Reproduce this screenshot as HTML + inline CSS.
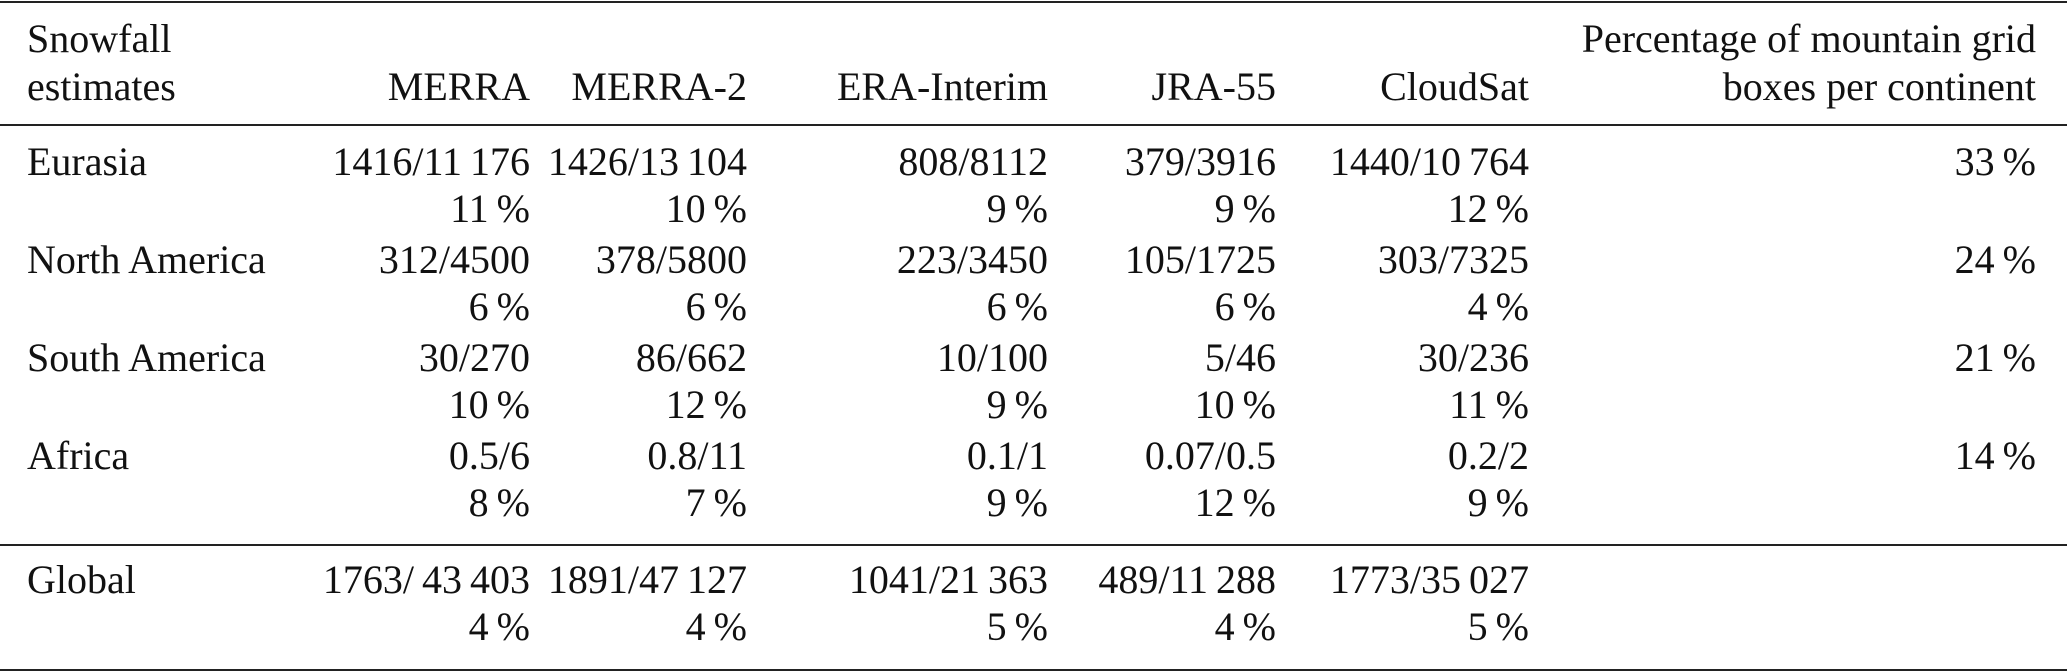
<!DOCTYPE html>
<html><head><meta charset="utf-8"><style>
html,body{margin:0;padding:0;background:#fff;}
body{width:2067px;height:672px;position:relative;overflow:hidden;font-family:"Liberation Serif",serif;font-size:40px;color:#111;}
.t{position:absolute;line-height:40px;white-space:nowrap;}
.r{text-align:right;}
.h{position:absolute;left:0;width:2067px;height:2px;background:#222;}
</style></head><body>
<div class="h" style="top:1px"></div>
<div class="h" style="top:124px"></div>
<div class="h" style="top:544px"></div>
<div class="h" style="top:669px"></div>
<div id="c"></div>
<script>
const B=2067;
const edges=[530,747,1048,1276,1529,2036];
function put(txt,x,base,right){const d=document.createElement('div');d.className='t';d.textContent=txt;d.style.top=(base-33.5)+'px';if(right){d.style.right=(B-x)+'px';}else{d.style.left=x+'px';}document.body.appendChild(d);}
put('Snowfall',27,52);put('estimates',27,100);
['MERRA','MERRA-2','ERA-Interim','JRA-55','CloudSat','boxes per continent'].forEach((s,i)=>put(s,edges[i],100,1));
put('Percentage of mountain grid',edges[5],52,1);
const rows=[
['Eurasia',175,['1416/11\u2009176','1426/13\u2009104','808/8112','379/3916','1440/10\u2009764','33\u2009%'],['11\u2009%','10\u2009%','9\u2009%','9\u2009%','12\u2009%']],
['North America',273,['312/4500','378/5800','223/3450','105/1725','303/7325','24\u2009%'],['6\u2009%','6\u2009%','6\u2009%','6\u2009%','4\u2009%']],
['South America',371,['30/270','86/662','10/100','5/46','30/236','21\u2009%'],['10\u2009%','12\u2009%','9\u2009%','10\u2009%','11\u2009%']],
['Africa',469,['0.5/6','0.8/11','0.1/1','0.07/0.5','0.2/2','14\u2009%'],['8\u2009%','7\u2009%','9\u2009%','12\u2009%','9\u2009%']],
['Global',593,['1763/\u200943\u2009403','1891/47\u2009127','1041/21\u2009363','489/11\u2009288','1773/35\u2009027'],['4\u2009%','4\u2009%','5\u2009%','4\u2009%','5\u2009%']]
];
rows.forEach(r=>{put(r[0],27,r[1]);r[2].forEach((s,i)=>put(s,edges[i],r[1],1));r[3].forEach((s,i)=>put(s,edges[i],r[1]+47,1));});
</script>
</body></html>
